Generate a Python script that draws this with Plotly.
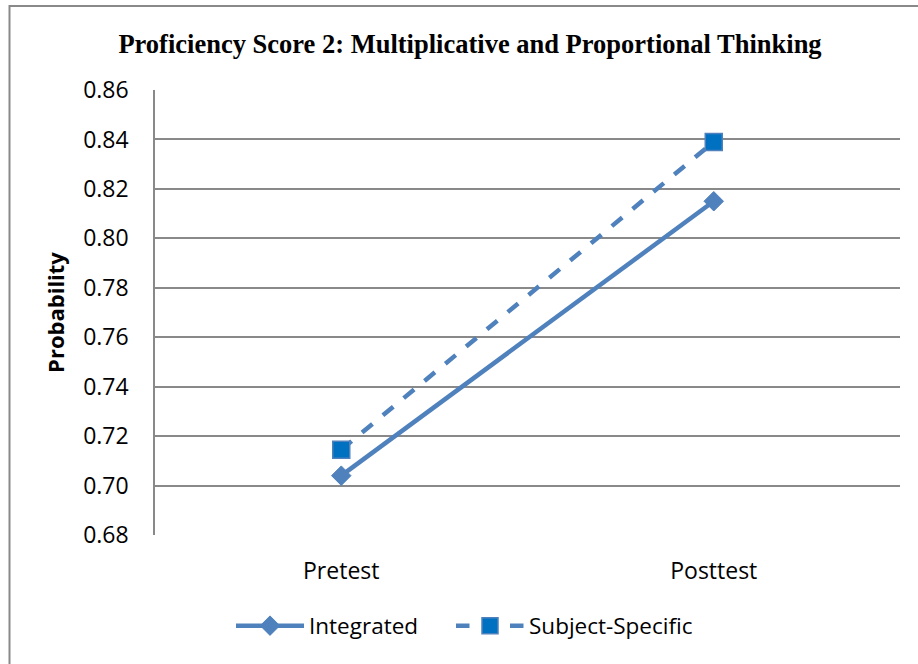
import plotly.graph_objects as go

categories = ["Pretest", "Posttest"]
integrated = [0.704, 0.815]
subject_specific = [0.7145, 0.839]
y_ticks = [0.68, 0.70, 0.72, 0.74, 0.76, 0.78, 0.80, 0.82, 0.84, 0.86]
y_tick_labels = [f"{v:.2f}" for v in y_ticks]

blue = "#4F81BD"
grid = "#898989"
font_sans = "Open Sans"

L, R, T, B = 155, 18, 90, 129
W, H = 918, 664
pw, ph = W - L - R, H - T - B

def px_x(x):
    return (x - L) / pw

def px_y(y):
    return (H - B - y) / ph

fig = go.Figure()
fig.add_trace(go.Scatter(
    x=categories, y=integrated, name="Integrated", mode="lines+markers",
    line=dict(color=blue, width=4.5),
    marker=dict(symbol="diamond", size=15, color=blue, line=dict(color=blue, width=1)),
    legend="legend",
))
fig.add_trace(go.Scatter(
    x=categories, y=subject_specific, name="Subject-Specific", mode="lines+markers",
    line=dict(color=blue, width=4.5, dash="dash"),
    marker=dict(symbol="square", size=17, color="#0070C0", line=dict(color=blue, width=1.5)),
    legend="legend2",
))

legend_common = dict(
    orientation="h", yanchor="middle", y=px_y(626), xanchor="left",
    font=dict(family=font_sans, size=22.5, color="black"), bgcolor="rgba(0,0,0,0)",
    itemwidth=68,
)

fig.update_layout(
    width=W, height=H,
    margin=dict(l=L, r=R, t=T, b=B),
    paper_bgcolor="white", plot_bgcolor="white",
    title=dict(
        text="<b>Proficiency Score 2: Multiplicative and Proportional Thinking</b>",
        font=dict(family="Liberation Serif", size=26.5, color="black"),
        x=470 / W, xanchor="center", y=1 - 44 / H, yanchor="middle",
    ),
    xaxis=dict(
        type="category", range=[-0.5, 1.5], showgrid=False, zeroline=False,
        showline=False, ticks="", tickfont=dict(family=font_sans, size=23, color="black"),
        ticklabelstandoff=20,
    ),
    yaxis=dict(
        range=[0.68, 0.86], tickvals=y_ticks, ticktext=y_tick_labels,
        showgrid=True, gridcolor=grid, gridwidth=1.5, zeroline=False,
        showline=True, linecolor=grid, linewidth=1.5, ticks="",
        tickfont=dict(family=font_sans, size=23, color="black"),
        ticklabelstandoff=20,
        title=dict(text="<b>Probability</b>", font=dict(family=font_sans, size=22, color="black"), standoff=12),
    ),
    legend=dict(legend_common, x=px_x(231)),
    legend2=dict(legend_common, x=px_x(451)),
    showlegend=True,
    shapes=[
        dict(type="line", xref="paper", yref="paper", x0=px_x(9.5), x1=px_x(918),
             y0=px_y(6), y1=px_y(6), line=dict(color=grid, width=2), layer="above"),
        dict(type="line", xref="paper", yref="paper", x0=px_x(9.5), x1=px_x(9.5),
             y0=px_y(5), y1=px_y(664), line=dict(color=grid, width=2), layer="above"),
    ],
)

fig.write_html(
    "out.html",
    config={"displayModeBar": False},
    post_script="document.body.style.margin='0';document.body.style.overflow='hidden';",
)
